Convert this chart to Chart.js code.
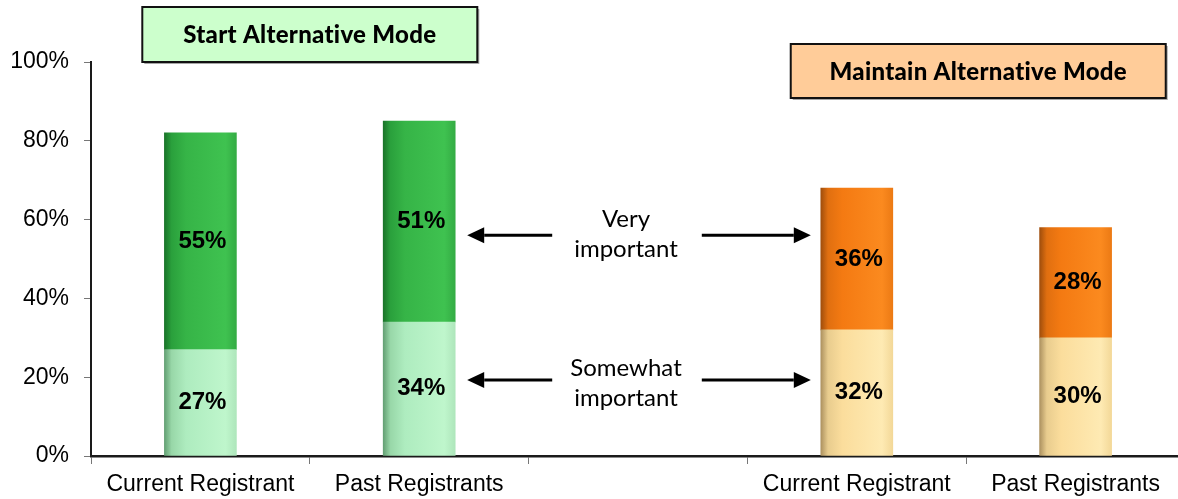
<!DOCTYPE html>
<html>
<head>
<meta charset="utf-8">
<script src="https://cdn.jsdelivr.net/npm/chart.js@4.4.1/dist/chart.umd.min.js"></script>
<style>
  html, body { margin: 0; padding: 0; background: #fff; overflow: hidden; width: 1178px; height: 499px; }
  #wrap { width: 1190px; height: 499px; position: relative; }
</style>
</head>
<body>
<div id="wrap"><canvas id="c" width="1190" height="499"></canvas></div>
<script>
// ---- data ----
const categories = ["Current Registrant", "Past Registrants", "", "Current Registrant", "Past Registrants"];
const somewhatImportant = [27, 34, null, 32, 30];
const veryImportant = [55, 51, null, 36, 28];
const yTicks = [0, 20, 40, 60, 80, 100];
const groupTitles = ["Start Alternative Mode", "Maintain Alternative Mode"];
const seriesNames = ["Somewhat important", "Very important"];

// ---- styles ----
const BAR_W = 72;
const GREEN_DARK = [[0, '#1a7429'], [0.1, '#2aa03c'], [0.3, '#36b447'], [0.85, '#3fc250'], [1, '#34ac44']];
const GREEN_LIGHT = [[0, '#64a074'], [0.1, '#98d7a8'], [0.3, '#aeecbf'], [0.85, '#bff6cc'], [1, '#aee6bb']];
const ORANGE_DARK = [[0, '#a04e0c'], [0.1, '#e06f10'], [0.3, '#f47a12'], [0.85, '#fb8a1f'], [1, '#ec7a14']];
const ORANGE_LIGHT = [[0, '#ad9260'], [0.1, '#e8cc8e'], [0.3, '#fbdd9c'], [0.85, '#feeab3'], [1, '#f3d898']];
const FONT = '"Liberation Sans", Arial, sans-serif';

function barGradient(ctx, greenStops, orangeStops) {
  const chart = ctx.chart;
  const stops = ctx.dataIndex < 2 ? greenStops : orangeStops;
  if (!chart.chartArea || !chart.scales.x) return stops[2][1];
  const x = chart.scales.x.getPixelForValue(ctx.dataIndex);
  const g = chart.ctx.createLinearGradient(x - BAR_W / 2, 0, x + BAR_W / 2, 0);
  stops.forEach(([o, c]) => g.addColorStop(o, c));
  return g;
}

const valueLabels = {
  id: 'valueLabels',
  afterDatasetsDraw(chart) {
    const c = chart.ctx;
    c.save();
    c.font = 'bold 24px ' + FONT;
    c.fillStyle = '#000';
    c.textAlign = 'center';
    c.textBaseline = 'middle';
    chart.data.datasets.forEach((ds, di) => {
      const meta = chart.getDatasetMeta(di);
      meta.data.forEach((el, i) => {
        const v = ds.data[i];
        if (v == null) return;
        const cy = (el.y + el.base) / 2;
        c.fillText(v + '%', el.x + 2, cy);
      });
    });
    c.restore();
  }
};

function fitFont(c, text, weight, family, targetW, maxSize) {
  let s = maxSize;
  c.font = weight + ' ' + s + 'px ' + family;
  while (c.measureText(text).width > targetW && s > 8) {
    s -= 0.5;
    c.font = weight + ' ' + s + 'px ' + family;
  }
  return s;
}

function drawArrow(c, x1, x2, y) {
  const dir = Math.sign(x2 - x1);
  const headL = 17, headH = 8;
  c.beginPath();
  c.moveTo(x1, y);
  c.lineTo(x2 - dir * headL, y);
  c.lineWidth = 3;
  c.strokeStyle = '#000';
  c.stroke();
  c.beginPath();
  c.moveTo(x2, y);
  c.lineTo(x2 - dir * headL, y - headH);
  c.lineTo(x2 - dir * headL, y + headH);
  c.closePath();
  c.fillStyle = '#000';
  c.fill();
}

const annotations = {
  id: 'annotations',
  afterDraw(chart) {
    const c = chart.ctx;
    const xs = chart.scales.x, ys = chart.scales.y;
    const cw = xs.getPixelForValue(1) - xs.getPixelForValue(0);
    const top = chart.chartArea.top;
    c.save();
    const boxes = [
      { text: groupTitles[0], cx: xs.getPixelForValue(0) + cw / 2, y: top - 55, w: 335, h: 55, fill: '#ccffcc', tw: 255 },
      { text: groupTitles[1], cx: xs.getPixelForValue(3) + cw * 0.555, y: top - 18, w: 375, h: 54, fill: '#ffcc99', tw: 300 }
    ];
    boxes.forEach(b => {
      const x = b.cx - b.w / 2;
      c.fillStyle = 'rgba(0,0,0,0.35)';
      c.fillRect(x + 2, b.y + 2, b.w, b.h);
      c.fillStyle = b.fill;
      c.fillRect(x, b.y, b.w, b.h);
      c.lineWidth = 2;
      c.strokeStyle = '#111';
      c.strokeRect(x, b.y, b.w, b.h);
      const fam = 'Lato, "Open Sans", sans-serif';
      if ('letterSpacing' in c) c.letterSpacing = '0.3px';
      if ('textRendering' in c) c.textRendering = 'optimizeSpeed';
      fitFont(c, b.text, '900', fam, b.tw, 28);
      c.fillStyle = '#000';
      c.textAlign = 'center';
      c.textBaseline = 'middle';
      c.fillText(b.text, b.cx, b.y + b.h / 2 + 1);
      if ('letterSpacing' in c) c.letterSpacing = '0px';
    });
    const midX = xs.getPixelForValue(2) - 12;
    const leftStart = xs.getPixelForValue(1) + 133, leftEnd = xs.getPixelForValue(1) + 48;
    const rightStart = xs.getPixelForValue(3) - 155, rightEnd = xs.getPixelForValue(3) - 46;
    const notes = [
      { lines: ['Very', 'important'], yv: 56, dy: [-16, 14] },
      { lines: ['Somewhat', 'important'], yv: 19.3, dy: [-12, 18] }
    ];
    notes.forEach(n => {
      const y = ys.getPixelForValue(n.yv);
      drawArrow(c, leftStart, leftEnd, y);
      drawArrow(c, rightStart, rightEnd, y);
      c.font = '24px Lato, "Open Sans", sans-serif';
      c.fillStyle = '#000';
      c.textAlign = 'center';
      c.textBaseline = 'middle';
      n.lines.forEach((t, i) => c.fillText(t, midX, y + n.dy[i]));
    });
    c.restore();
  }
};

new Chart(document.getElementById('c'), {
  type: 'bar',
  data: {
    labels: categories,
    datasets: [
      {
        label: seriesNames[0],
        data: somewhatImportant,
        backgroundColor: ctx => barGradient(ctx, GREEN_LIGHT, ORANGE_LIGHT),
        barThickness: BAR_W,
        borderWidth: 0
      },
      {
        label: seriesNames[1],
        data: veryImportant,
        backgroundColor: ctx => barGradient(ctx, GREEN_DARK, ORANGE_DARK),
        barThickness: BAR_W,
        borderWidth: 0
      }
    ]
  },
  options: {
    responsive: false,
    animation: false,
    events: [],
    layout: { padding: { top: 62, right: 5, bottom: 0, left: 0 } },
    plugins: { legend: { display: false }, tooltip: { enabled: false }, title: { display: false } },
    scales: {
      x: {
        stacked: true,
        grid: { display: true, drawOnChartArea: false, drawTicks: true, tickLength: 8, color: '#777', offset: true },
        border: { display: true, color: '#1a1a1a', width: 2.5 },
        ticks: { color: '#000', font: { family: FONT, size: 23 }, padding: 7, autoSkip: false, maxRotation: 0 },
        afterFit: s => { s.height = 43; }
      },
      y: {
        stacked: true,
        min: 0,
        max: 100,
        afterBuildTicks: s => { s.ticks = yTicks.map(v => ({ value: v })); },
        grid: { display: true, drawOnChartArea: false, drawTicks: true, tickLength: 7, color: '#777' },
        border: { display: true, color: '#1a1a1a', width: 2 },
        ticks: { color: '#000', font: { family: FONT, size: 23 }, padding: 15, callback: v => v + '%' },
        afterFit: s => { s.width = 91; }
      }
    }
  },
  plugins: [valueLabels, annotations]
});
</script>
</body>
</html>
